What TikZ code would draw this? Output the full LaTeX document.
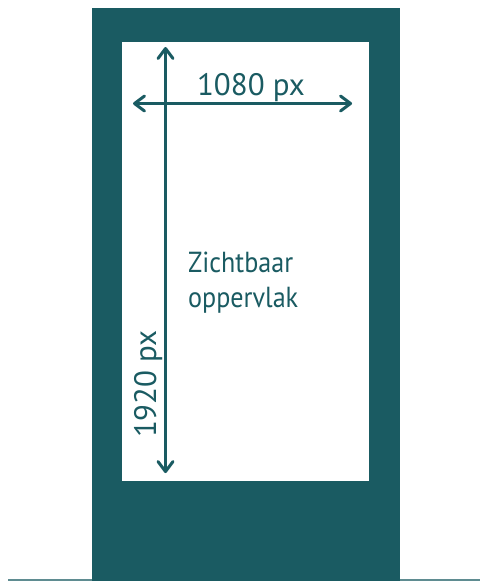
\documentclass[tikz,border=0pt]{standalone}
\usepackage{fontspec}
\setmainfont{PT Sans}
\usetikzlibrary{arrows.meta}
\definecolor{tealdark}{RGB}{26,91,98}
\begin{document}
\begin{tikzpicture}[x=1pt,y=-1pt,
  barb/.tip={Straight Barb[length=10pt,width=15pt,line cap=round,line join=round]},
  dim/.style={draw=tealdark,line width=3pt,barb-barb},
  lbl/.style={text=tealdark,font=\fontsize{31}{35}\selectfont,inner sep=0pt},
  area/.style={text=tealdark,font=\fontsize{29}{35}\selectfont,inner sep=0pt}]
\useasboundingbox (0,0) rectangle (480,581);
\draw[tealdark!70,line width=1.5pt] (8,580) -- (480,580);
\fill[tealdark] (92,8) rectangle (400,581);
\fill[white] (122,42) rectangle (369,481);
\coordinate (vtop) at (165.5,47);
\coordinate (vbot) at (165.5,473);
\coordinate (hleft) at (133,103.5);
\coordinate (hright) at (352,103.5);
\draw[dim] (vtop) -- (vbot);
\draw[dim] (hleft) -- (hright);
\node[lbl,anchor=base] (w) at (251,95) {1080 px};
\node[lbl,anchor=base,rotate=90] (h) at (156,384) {1920 px};
\node[area,anchor=base west,align=left] (z) at (188,307.7) {\scalebox{0.9}[1]{Zichtbaar}\\\scalebox{0.9}[1]{oppervlak}};
\end{tikzpicture}
\end{document}
